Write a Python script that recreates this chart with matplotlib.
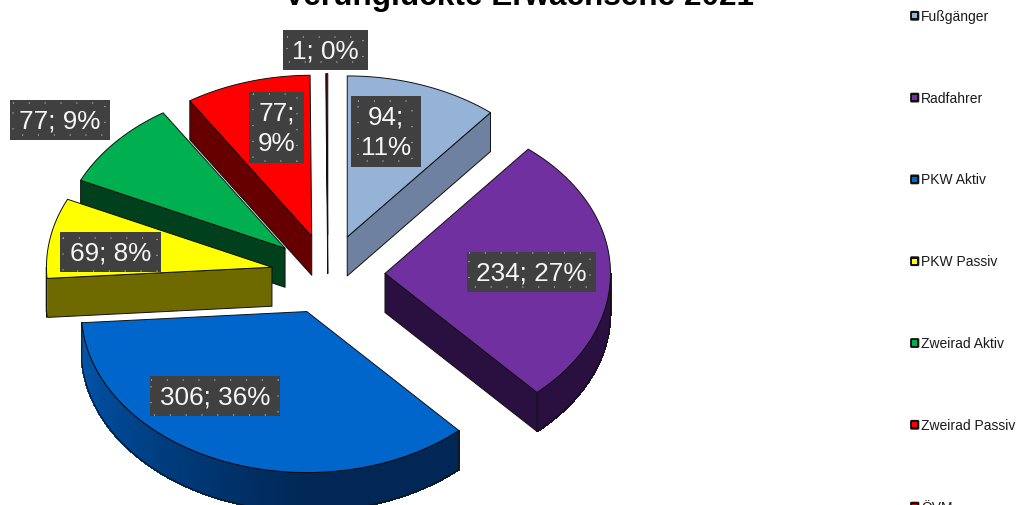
import numpy as np
import matplotlib
matplotlib.use('Agg')
import matplotlib.pyplot as plt
from matplotlib.patches import Polygon, Rectangle, FancyBboxPatch

plt.rcParams['font.family'] = ['Liberation Sans', 'DejaVu Sans']

#------------------------------------------------------------------------------
# data

categories = ['Fußgänger', 'Radfahrer', 'PKW Aktiv', 'PKW Passiv',
              'Zweirad Aktiv', 'Zweirad Passiv', 'ÖVM']
values = [94, 234, 306, 69, 77, 77, 1]
title = 'Verunglückte Erwachsene 2021'

#------------------------------------------------------------------------------
# style and layout (pixels)

top_colors = ['#95B3D7', '#7030A0', '#0066CC', '#FFFF00', '#00B050', '#FF0000', '#C00000']
side_colors = ['#6E81A0', '#2A1040', '#002755', '#6F6A00', '#00401D', '#660000', '#500000']

CX, CY = 328, 275.5     # pie centre
R = 225.5               # horizontal radius
TILT = 0.714            # squash of the vertical radius
EXPLODE = 57            # distance every slice is pulled out
EXPLODE_TILT = 0.70
DEPTH = 39              # extrusion height

# label box (x0, y0, x1, y1), dotted frame inside it, line break after the value
label_boxes = [(351, 97, 421, 168), (467, 253, 596, 293), (150, 377, 280, 417),
               (60, 233, 161, 273), (10, 101, 110, 141), (249, 93, 304, 164),
               (283, 31, 368, 71)]
label_dots = [(358, 102, 412, 162), (469, 254, 590, 288), (151, 381, 278, 416),
              (63, 239, 157, 272), (13, 104, 105, 136), (253, 95, 297, 162),
              (287, 38, 363, 63)]
label_wrap = [True, False, False, False, False, True, False]

#------------------------------------------------------------------------------
# functions

def mix(dark, light, t):
    dark, light = np.array(matplotlib.colors.to_rgb(dark)), np.array(matplotlib.colors.to_rgb(light))
    return tuple(dark + t*(light - dark))


def rimPoints(apex, angles):
    rad = np.radians(angles)
    return np.column_stack([apex[0] + R*np.sin(rad), apex[1] - R*TILT*np.cos(rad)])


def drawSlice(ax, start, end, top, side):
    mid = np.radians((start + end)/2)
    apex = (CX + EXPLODE*np.sin(mid), CY - EXPLODE*EXPLODE_TILT*np.cos(mid))
    down = np.array([0, DEPTH])
    edge = dict(edgecolor='#101010', linewidth=0.7, joinstyle='round')

    # radial faces pointing towards the viewer
    for angle, visible in ((start, np.sin(np.radians(start)) < -1e-6),
                           (end, np.sin(np.radians(end)) > 1e-6)):
        if visible:
            p = rimPoints(apex, np.array([angle]))[0]
            ax.add_patch(Polygon([apex, p, p + down, np.array(apex) + down],
                                 facecolor=side, **edge))

    # outer rim, shaded strip by strip towards the left
    lo, hi = max(start, 90), min(end, 270)
    if hi > lo:
        angles = np.linspace(lo, hi, int(hi - lo)*2 + 2)
        pts = rimPoints(apex, angles)
        for i in range(len(angles) - 1):
            t = 0.8*np.clip((angles[i] - 180)/90, 0, 1)
            ax.add_patch(Polygon([pts[i], pts[i+1], pts[i+1] + down, pts[i] + down],
                                 facecolor=mix(side, top, t), edgecolor=mix(side, top, t),
                                 linewidth=0.8, antialiased=False))
        ax.add_patch(Polygon(np.vstack([pts, pts[::-1] + down]), fill=False, **edge))

    # top surface
    angles = np.linspace(start, end, max(int(end - start)*2, 2))
    ax.add_patch(Polygon(np.vstack([[apex], rimPoints(apex, angles)]), facecolor=top, **edge))
    return apex


def drawLabel(ax, text, box, dots):
    x0, y0, x1, y1 = box
    ax.add_patch(Rectangle((x0, y0), x1 - x0, y1 - y0, facecolor='#404040', edgecolor='none', zorder=5))
    ax.add_patch(Rectangle((dots[0], dots[1]), dots[2] - dots[0], dots[3] - dots[1], fill=False,
                           edgecolor='#A6A6A6', linewidth=1.2, linestyle=(0, (0.6, 8.9)), zorder=6))
    ax.text((x0 + x1)/2, (y0 + y1)/2 + 0.5, text, color='#F6F6F6', fontsize=18.8, ha='center',
            va='center', linespacing=1.35, zorder=7)

#------------------------------------------------------------------------------
# pie

fig = plt.figure(figsize=(10.16, 5.06), dpi=100)
ax = fig.add_axes([0, 0, 1, 1])
ax.set_xlim(0, 1016)
ax.set_ylim(506, 0)
ax.axis('off')

total = sum(values)
bounds = np.cumsum([0] + values)/total*360

# back to front, the slices overlap each other
def sliceDepth(i):
    return -np.cos(np.radians((bounds[i] + bounds[i+1])/2))

for i in sorted(range(len(values)), key=sliceDepth):
    drawSlice(ax, bounds[i], bounds[i+1], top_colors[i], side_colors[i])

for i, value in enumerate(values):
    sep = ';\n' if label_wrap[i] else '; '
    drawLabel(ax, f'{value}{sep}{round(100*value/total)}%', label_boxes[i], label_dots[i])

#------------------------------------------------------------------------------
# title and legend

ax.text(519, 5, title, fontsize=22.7, fontweight='bold', ha='center', va='baseline', color='black')

for i, name in enumerate(categories):
    y = 16.8 + 81.8*i
    ax.add_patch(FancyBboxPatch((911, y - 4), 7.4, 8, boxstyle='round,pad=0.9,rounding_size=1.5',
                                facecolor='#111111', edgecolor='none'))
    ax.add_patch(Rectangle((912.2, y - 2.6), 5, 5.2, facecolor=top_colors[i], edgecolor='none'))
    ax.text(921, y, name, fontsize=10, ha='left', va='center', color='#1a1a1a')

fig.savefig('out.png', dpi=100)
